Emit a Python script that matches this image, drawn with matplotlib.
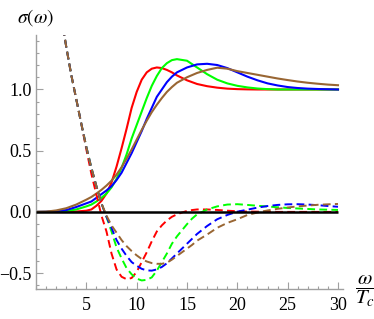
import matplotlib
matplotlib.use('Agg')
import matplotlib.pyplot as plt
from matplotlib.ticker import MultipleLocator

plt.rcParams['font.family'] = ['Liberation Serif', 'DejaVu Serif']
plt.rcParams['mathtext.fontset'] = 'stix'

# real part sigma(omega) (solid)
w_re = [0, 1, 2, 3, 4, 5, 5.5, 6, 6.5, 7, 7.5, 8, 8.5, 9, 9.5, 10, 10.5, 11, 11.5, 12,
        12.5, 13, 13.5, 14, 15, 16, 17, 18, 19, 20, 21, 22, 23, 24, 25, 26, 27, 28, 29, 30]
re_red = [0, 0, 0, 0, 0.003, 0.01, 0.02, 0.05, 0.09, 0.15, 0.24, 0.37, 0.52, 0.68, 0.85, 0.98,
          1.08, 1.14, 1.17, 1.18, 1.175, 1.16, 1.14, 1.115, 1.075, 1.045, 1.027, 1.015, 1.007,
          1.003, 1.001, 1.0, 1.0, 1.0, 1.0, 1.0, 1.0, 1.0, 1.0, 1.0]
re_green = [0, 0, 0.002, 0.007, 0.02, 0.045, 0.06, 0.085, 0.115, 0.15, 0.2, 0.27, 0.36, 0.47,
            0.6, 0.71, 0.82, 0.93, 1.03, 1.11, 1.175, 1.215, 1.24, 1.248, 1.235, 1.18, 1.125,
            1.08, 1.05, 1.03, 1.017, 1.008, 1.003, 1.0, 1.0, 1.0, 1.0, 1.0, 1.0, 1.0]
re_blue = [0, 0.001, 0.006, 0.015, 0.04, 0.07, 0.085, 0.115, 0.145, 0.175, 0.21, 0.26, 0.32,
           0.4, 0.48, 0.57, 0.66, 0.76, 0.85, 0.94, 1.0, 1.06, 1.105, 1.14, 1.18, 1.205, 1.21,
           1.2, 1.175, 1.14, 1.105, 1.075, 1.05, 1.033, 1.02, 1.012, 1.007, 1.004, 1.002, 1.0]
re_brown = [0, 0.002, 0.012, 0.03, 0.06, 0.1, 0.122, 0.15, 0.18, 0.215, 0.255, 0.305, 0.365,
            0.435, 0.51, 0.59, 0.67, 0.745, 0.815, 0.875, 0.93, 0.98, 1.02, 1.055, 1.1, 1.135,
            1.16, 1.178, 1.17, 1.15, 1.135, 1.12, 1.105, 1.09, 1.077, 1.065, 1.055, 1.047,
            1.04, 1.035]

# imaginary part (dashed)
w_im = [2.5, 3, 3.5, 4, 4.5, 5, 5.5, 6, 6.5, 7, 7.5, 8, 8.5, 9, 9.5, 10, 10.5, 11, 11.5, 12,
        12.5, 13, 13.5, 14, 14.5, 15, 15.5, 16, 17, 18, 19, 20, 21, 22, 23, 24, 25, 26, 27,
        28, 29, 30]
im_red = [1.6, 1.35, 1.12, 0.92, 0.72, 0.51, 0.31, 0.14, -0.03, -0.16, -0.34, -0.47, -0.53,
          -0.55, -0.54, -0.49, -0.41, -0.33, -0.24, -0.16, -0.11, -0.07, -0.04, -0.02, -0.005,
          0.008, 0.015, 0.02, 0.02, 0.016, 0.01, 0.005, 0.003, 0.002, 0.001, 0.0, 0.0, 0.0,
          0.0, 0.0, 0.0, 0.0]
im_green = [1.6, 1.35, 1.12, 0.92, 0.72, 0.53, 0.36, 0.21, 0.07, -0.04, -0.16, -0.29, -0.38,
            -0.46, -0.51, -0.545, -0.56, -0.555, -0.535, -0.48, -0.41, -0.34, -0.26, -0.2,
            -0.15, -0.1, -0.055, -0.02, 0.02, 0.045, 0.06, 0.063, 0.057, 0.05, 0.044, 0.038,
            0.032, 0.028, 0.024, 0.02, 0.018, 0.016]
im_blue = [1.6, 1.35, 1.12, 0.92, 0.72, 0.53, 0.36, 0.21, 0.07, -0.04, -0.13, -0.23, -0.3,
           -0.36, -0.41, -0.44, -0.465, -0.478, -0.48, -0.47, -0.45, -0.42, -0.38, -0.34,
           -0.3, -0.26, -0.22, -0.18, -0.115, -0.06, -0.025, 0.002, 0.018, 0.035, 0.048,
           0.057, 0.062, 0.063, 0.06, 0.055, 0.048, 0.042]
im_brown = [1.6, 1.35, 1.12, 0.92, 0.72, 0.53, 0.36, 0.21, 0.07, -0.03, -0.11, -0.17, -0.23,
            -0.28, -0.32, -0.355, -0.385, -0.405, -0.418, -0.424, -0.424, -0.415, -0.39, -0.36,
            -0.33, -0.3, -0.27, -0.235, -0.185, -0.13, -0.09, -0.06, -0.025, -0.005, 0.012,
            0.025, 0.036, 0.045, 0.052, 0.058, 0.062, 0.065]

colors = ['#ff0000', '#00ff00', '#0000ff', '#996633']
yticks = [-0.5, 0.0, 0.5, 1.0]
ytick_labels = ['\u22120.5', '0.0', '0.5', '1.0']
xticks = [5, 10, 15, 20, 25, 30]

fig = plt.figure(figsize=(3.74, 3.19), dpi=100)
ax = fig.add_axes([0.0963, 0.094, 0.8209, 0.7962])

for y, c in zip([re_red, re_green, re_blue, re_brown], colors):
    ax.plot(w_re, y, color=c, lw=1.5)
for y, c in zip([im_red, im_green, im_blue, im_brown], colors):
    ax.plot(w_im, y, color=c, lw=1.4, dashes=(4, 2.2))

ax.hlines(0, w_re[0], w_re[-1], color='black', lw=1.8, zorder=5)

ax.set_xlim(0, 30.5)
ax.set_ylim(-0.63, 1.445)

for s in ['top', 'right']:
    ax.spines[s].set_visible(False)
for s in ['left', 'bottom']:
    ax.spines[s].set_color('#a0a0a0')
    ax.spines[s].set_linewidth(1.0)

ax.set_xticks(xticks)
ax.set_yticks(yticks)
ax.set_yticklabels(ytick_labels)
ax.xaxis.set_minor_locator(MultipleLocator(1))
ax.yaxis.set_minor_locator(MultipleLocator(0.1))
ax.tick_params(which='both', direction='in', color='#a0a0a0', labelsize=13, width=0.8)
ax.tick_params(which='major', length=5)
ax.tick_params(which='minor', length=2.5)
ax.tick_params(axis='x', pad=6)
ax.tick_params(axis='y', pad=3)

fig.text(0.094, 0.944, r'$\sigma(\omega)$', fontsize=14, ha='center', va='center')
fig.text(0.976, 0.088, r'$\dfrac{\omega}{T_c}$', fontsize=15, ha='center', va='center')

fig.savefig('out.png', dpi=100)
